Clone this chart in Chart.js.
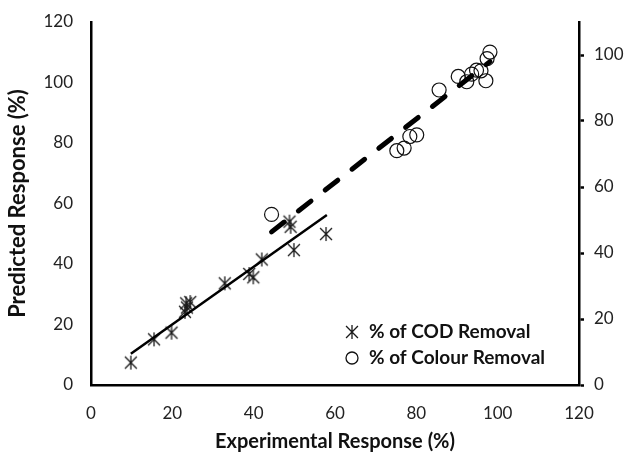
<!DOCTYPE html>
<html>
<head>
<meta charset="utf-8">
<script src="https://cdn.jsdelivr.net/npm/chart.js@4.4.0/dist/chart.umd.min.js"></script>
<style>
html, body { margin: 0; padding: 0; background: #fff; }
#wrap { width: 634px; height: 454px; }
</style>
</head>
<body>
<div id="wrap"><canvas id="chart" width="634" height="454"></canvas></div>
<script>
// % of COD removal (left axis)
const codExp  = [9.8, 15.5, 19.8, 23.1, 23.4, 24.4, 23.6, 32.9, 38.9, 39.9, 42.0, 48.8, 49.1, 49.9, 57.8];
const codPred = [7.4, 15.1, 17.3, 24.2, 27.0, 27.4, 25.6, 33.6, 36.7, 35.6, 41.5, 54.0, 52.3, 44.6, 49.9];
// % of colour removal (right axis)
const colourExp  = [44.4, 75.2, 77.0, 78.4, 80.1, 85.6, 90.3, 92.4, 93.6, 94.8, 95.9, 97.1, 97.4, 98.1];
const colourPred = [51.7, 71.0, 71.8, 75.3, 75.8, 89.4, 93.5, 91.9, 94.2, 95.4, 95.2, 92.2, 98.9, 100.9];
// fitted lines (end points)
const codFitX = [9.8, 58.0];
const codFitY = [10.3, 56.2];
const colourFitX = [44.4, 98.1];
const colourFitY = [46.4, 98.0];

const seriesLabels = ['% of COD Removal', '% of Colour Removal'];
const xTicks = [0, 20, 40, 60, 80, 100, 120];
const yTicks = [0, 20, 40, 60, 80, 100, 120];
const y2Ticks = [0, 20, 40, 60, 80, 100];

const FONT = 'Lato, "Open Sans", sans-serif';

function toPoints(xs, ys) {
    return xs.map((x, i) => ({ x: x, y: ys[i] }));
}

// excel style asterisk marker
function makeStar(size, color) {
    const c = document.createElement('canvas');
    c.width = size;
    c.height = size;
    const g = c.getContext('2d');
    g.strokeStyle = color;
    g.lineWidth = 1.3;
    const m = size / 2, r = size / 2 - 1, d = r * 0.85;
    g.beginPath();
    g.moveTo(m, m - r); g.lineTo(m, m + r);
    g.moveTo(m - d, m - d); g.lineTo(m + d, m + d);
    g.moveTo(m + d, m - d); g.lineTo(m - d, m + d);
    g.stroke();
    return c;
}
const starImg = makeStar(16, '#1a1a1a');

const legendPlugin = {
    id: 'insideLegend',
    afterDraw(chart) {
        const c = chart.ctx;
        const rows = [
            { y: 332, kind: 'star', text: seriesLabels[0] },
            { y: 358, kind: 'circle', text: seriesLabels[1] }
        ];
        c.save();
        c.font = 'bold 19px ' + FONT;
        c.textBaseline = 'middle';
        c.fillStyle = '#111';
        rows.forEach(r => {
            if (r.kind === 'star') {
                c.drawImage(starImg, 352 - 8, r.y - 8);
            } else {
                c.beginPath();
                c.strokeStyle = '#111';
                c.lineWidth = 1.3;
                c.arc(352, r.y, 6, 0, Math.PI * 2);
                c.stroke();
            }
            c.fillText(r.text, 369, r.y);
        });
        c.restore();
    }
};

function fixedTicks(values) {
    return function (scale) {
        scale.ticks = values.map(v => ({ value: v }));
    };
}

new Chart(document.getElementById('chart'), {
    type: 'scatter',
    data: {
        datasets: [
            {
                label: seriesLabels[0],
                data: toPoints(codExp, codPred),
                yAxisID: 'y',
                pointStyle: starImg,
                pointRadius: 8,
                order: 2
            },
            {
                label: seriesLabels[1],
                data: toPoints(colourExp, colourPred),
                yAxisID: 'y2',
                pointStyle: 'circle',
                pointRadius: 7,
                borderColor: '#111',
                borderWidth: 1.2,
                backgroundColor: 'rgba(0,0,0,0)',
                order: 2
            },
            {
                type: 'line',
                label: 'COD fit',
                data: toPoints(codFitX, codFitY),
                yAxisID: 'y',
                borderColor: '#000',
                borderWidth: 2.5,
                pointRadius: 0,
                fill: false,
                order: 1
            },
            {
                type: 'line',
                label: 'Colour fit',
                data: toPoints(colourFitX, colourFitY),
                yAxisID: 'y2',
                borderColor: '#000',
                borderWidth: 5,
                borderDash: [16, 18],
                borderCapStyle: 'round',
                pointRadius: 0,
                fill: false,
                order: 1
            }
        ]
    },
    options: {
        responsive: false,
        animation: false,
        layout: { padding: { top: 22, left: 0, right: 0, bottom: 0 } },
        plugins: {
            legend: { display: false },
            tooltip: { enabled: false }
        },
        scales: {
            x: {
                type: 'linear',
                min: 0,
                max: 120,
                afterBuildTicks: fixedTicks(xTicks),
                afterFit(scale) { scale.height = 69; },
                grid: { display: false },
                border: { display: true, color: '#000', width: 2.5 },
                ticks: { color: '#222', font: { family: FONT, size: 17 }, padding: 10, maxRotation: 0 },
                title: {
                    display: true,
                    text: 'Experimental Response (%)',
                    color: '#111',
                    font: { family: FONT, size: 20, weight: 'bold' },
                    padding: { top: 0, bottom: 0 }
                }
            },
            y: {
                type: 'linear',
                position: 'left',
                min: 0,
                max: 120,
                afterBuildTicks: fixedTicks(yTicks),
                afterFit(scale) { scale.width = 91; },
                grid: { display: false },
                border: { display: true, color: '#000', width: 2.5 },
                ticks: { color: '#222', font: { family: FONT, size: 17 }, padding: 10 },
                title: {
                    display: true,
                    text: 'Predicted Response (%)',
                    color: '#111',
                    font: { family: FONT, size: 22, weight: 'bold' },
                    padding: { top: 5, bottom: 0 }
                }
            },
            y2: {
                type: 'linear',
                position: 'right',
                min: 0,
                max: 110,
                afterBuildTicks: fixedTicks(y2Ticks),
                afterFit(scale) { scale.width = 55; },
                grid: {
                    display: true,
                    drawOnChartArea: false,
                    drawTicks: true,
                    tickLength: 5,
                    tickWidth: 2.5,
                    color: '#000'
                },
                border: { display: true, color: '#000', width: 2.5 },
                ticks: { color: '#222', font: { family: FONT, size: 17 }, padding: 10 }
            }
        }
    },
    plugins: [legendPlugin]
});
</script>
</body>
</html>
